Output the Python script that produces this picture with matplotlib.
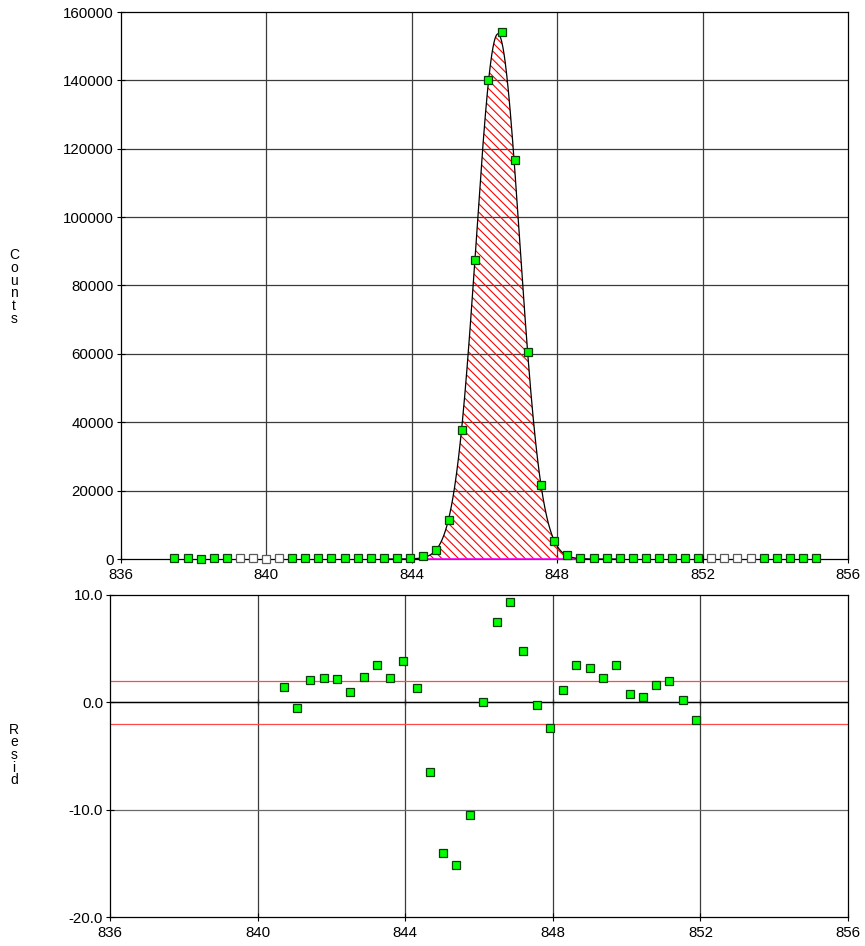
import numpy as np
import matplotlib
matplotlib.use("Agg")
import matplotlib.pyplot as plt

plt.rcParams['font.family'] = ['Liberation Sans', 'DejaVu Sans']
plt.rcParams['axes.unicode_minus'] = False
plt.rcParams['hatch.linewidth'] = 0.8

# ---------------- data ----------------
energy = [837.47, 837.83, 838.19, 838.55, 838.91, 839.27, 839.63, 839.99, 840.35, 840.71,
          841.07, 841.43, 841.79, 842.15, 842.51, 842.87, 843.23, 843.59, 843.95, 844.31,
          844.67, 845.03, 845.39, 845.75, 846.11, 846.48, 846.84, 847.20, 847.56, 847.92,
          848.28, 848.64, 849.00, 849.36, 849.72, 850.08, 850.44, 850.80, 851.16, 851.52,
          851.88, 852.24, 852.60, 852.96, 853.32, 853.68, 854.04, 854.40, 854.76, 855.12]
counts = [150, 160, 140, 170, 150, 160, 150, 140, 160, 210,
          190, 220, 225, 220, 205, 225, 240, 225, 250, 880,
          2630, 11300, 37850, 87400, 140200, 154200, 116800, 60500, 21600, 5360,
          1080, 260, 250, 240, 255, 230, 225, 235, 240, 220,
          200, 180, 170, 175, 165, 170, 160, 165, 170, 160]
# 1 = filled marker, 0 = excluded (open marker)
included = [1, 1, 1, 1, 1, 0, 0, 0, 0, 1,
            1, 1, 1, 1, 1, 1, 1, 1, 1, 1,
            1, 1, 1, 1, 1, 1, 1, 1, 1, 1,
            1, 1, 1, 1, 1, 1, 1, 1, 1, 1,
            1, 0, 0, 0, 0, 1, 1, 1, 1, 1]

resid_energy = energy[9:41]
resid = [1.40, -0.56, 2.11, 2.24, 2.14, 0.96, 2.33, 3.45, 2.29, 3.88,
         1.33, -6.47, -14.07, -15.19, -10.53, 0.06, 7.48, 9.37, 4.75, -0.25,
         -2.42, 1.12, 3.48, 3.17, 2.26, 3.50, 0.80, 0.52, 1.64, 2.01,
         0.21, -1.62]

# fitted peak parameters
peak_centroid = 846.37
peak_sigma = 0.598
peak_height = 153600
roi_lo, roi_hi = 844.40, 848.55
resid_limit = 2.0

xticks = [836, 840, 844, 848, 852, 856]
top_yticks = [0, 20000, 40000, 60000, 80000, 100000, 120000, 140000, 160000]
bot_yticks = [-20.0, -10.0, 0.0, 10.0]

# ---------------- figure ----------------
W, H = 865, 946
fig = plt.figure(figsize=(W / 100, H / 100), dpi=100)

ax1 = fig.add_axes([121 / W, 1 - 559 / H, (848 - 121) / W, (559 - 12) / H])
ax2 = fig.add_axes([110 / W, 1 - 917 / H, (848 - 110) / W, (917 - 595) / H])

fs = 10.8
gridc = '#3c3c3c'

for ax in (ax1, ax2):
    ax.set_xlim(836, 856)
    ax.set_xticks(xticks)
    ax.tick_params(direction='inout', length=6, width=0.8, labelsize=fs, pad=2)
    ax.tick_params(axis='x', pad=3.5)
    for s in ax.spines.values():
        s.set_linewidth(0.9)
        s.set_color('black')
    for xv in xticks[1:-1]:
        ax.axvline(xv, color=gridc, lw=0.9, zorder=1)

# ---- top panel ----
ax1.set_ylim(0, 160000)
ax1.set_yticks(top_yticks)
ax1.set_yticklabels([str(v) for v in top_yticks])
for yv in top_yticks[1:-1]:
    ax1.axhline(yv, color=gridc, lw=0.9, zorder=1)

xf = np.linspace(843.3, 849.6, 600)
yf = peak_height * np.exp(-0.5 * ((xf - peak_centroid) / peak_sigma) ** 2)
m = (xf >= roi_lo) & (xf <= roi_hi)
ax1.fill_between(xf[m], 0, yf[m], facecolor='none', edgecolor='red',
                 linewidth=0, hatch='\\\\\\\\', zorder=2)
ax1.plot([roi_lo, roi_hi], [0, 0], color='#ff00ff', lw=1.2, zorder=3, clip_on=False)
ax1.plot(xf, yf, color='black', lw=0.9, zorder=4)

e = np.array(energy)
c = np.array(counts)
inc = np.array(included, dtype=bool)
ax1.plot(e[inc], c[inc], 's', ms=6, mfc='#00ff00', mec='#0b3d0b', mew=0.9,
         zorder=6, clip_on=False, ls='none')
ax1.plot(e[~inc], c[~inc], 's', ms=6, mfc='white', mec='#5a5a5a', mew=0.9,
         zorder=6, clip_on=False, ls='none')

# ---- bottom panel ----
ax2.set_ylim(-20, 10)
ax2.set_yticks(bot_yticks)
ax2.set_yticklabels(['%.1f' % v for v in bot_yticks])
ax2.axhline(-10, color='#6a6a6a', lw=0.9, zorder=1)
ax2.axhline(resid_limit, color='#ff4a4a', lw=0.9, zorder=2)
ax2.axhline(-resid_limit, color='#ff4a4a', lw=0.9, zorder=2)
ax2.axhline(0, color='black', lw=1.0, zorder=2)
sec = ax2.secondary_xaxis(2 / 3)
sec.set_xticks(xticks[1:-1])
sec.tick_params(direction='inout', length=5, width=0.9, labelbottom=False,
                labeltop=False, top=False, bottom=True)
sec.spines['bottom'].set_linewidth(1.0)

ax2.plot(resid_energy, resid, 's', ms=6, mfc='#00ff00', mec='#0b3d0b', mew=0.9,
         zorder=6, ls='none')

# ---- axis titles (stacked letters) ----
fig.text(14 / W, 1 - 287 / H, '\n'.join('Counts'), ha='center', va='center',
         fontsize=10, linespacing=0.88)
fig.text(14 / W, 1 - 755 / H, '\n'.join('Resid'), ha='center', va='center',
         fontsize=10, linespacing=0.88)

fig.savefig('out.png', dpi=100)
